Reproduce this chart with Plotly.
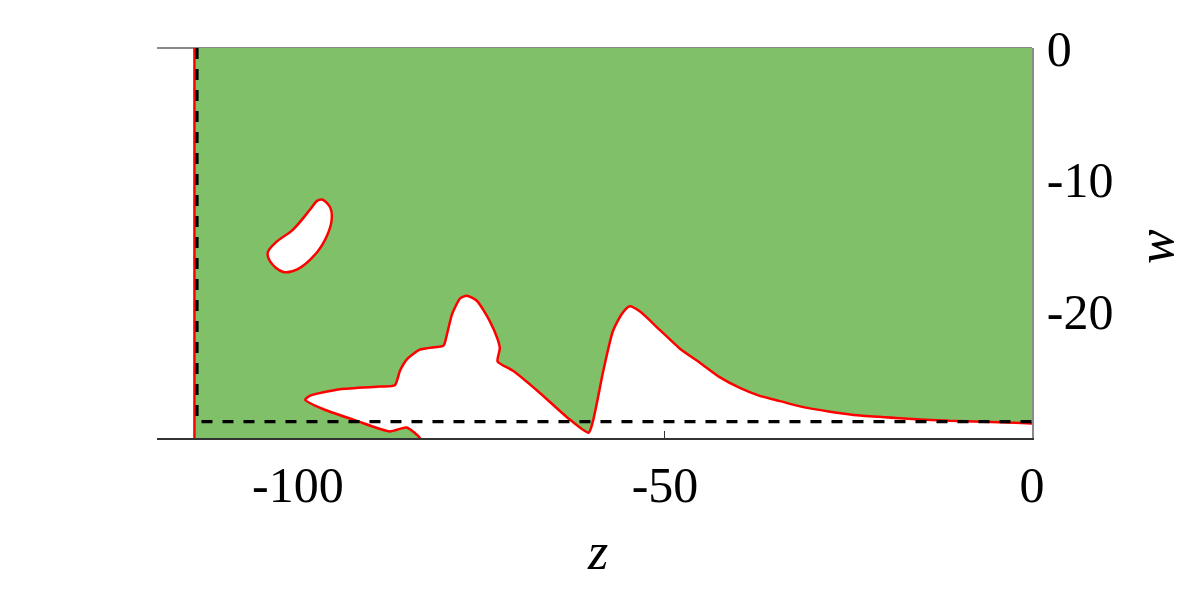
import plotly.graph_objects as go

# Outer limits of the shaded region
Z_LEFT = -114.1
W_BOTTOM = -29.6
Z_DASH = -113.75
W_DASH = -28.35

# Lower red boundary, from where it leaves the bottom axis to the right edge
boundary_z = [-83.4, -85.2, -87.5, -92.0, -96.6, -99.0, -98.4, -94.3, -88.8, -86.8,
              -86.1, -85.1, -83.4, -80.2, -80.0, -79.0, -77.9, -77.0, -75.6, -73.8,
              -72.8, -72.5, -72.8, -70.7, -67.0, -63.4, -60.4, -59.8, -58.4, -57.1,
              -55.9, -54.8, -53.4, -50.7, -48.0, -45.2, -42.5, -39.8, -37.1, -34.3,
              -31.6, -27.5, -23.4, -18.0, -11.2, -4.4, 0.0]
boundary_w = [-29.6, -28.8, -29.1, -28.3, -27.4, -26.7, -26.4, -25.9, -25.7, -25.6,
              -24.5, -23.6, -22.9, -22.6, -22.4, -20.2, -19.0, -18.8, -19.2, -20.8,
              -22.1, -22.8, -23.8, -24.5, -26.2, -28.0, -29.2, -28.3, -24.5, -21.5,
              -20.2, -19.6, -20.0, -21.4, -22.8, -23.9, -25.0, -25.8, -26.4, -26.8,
              -27.2, -27.6, -27.9, -28.1, -28.3, -28.4, -28.5]

# Isolated hole in the shaded region
island_z = [-96.7, -95.6, -95.4, -96.0, -97.4, -100.1, -102.0, -103.8, -104.1,
            -102.9, -100.7, -98.4, -97.4]
island_w = [-11.5, -12.1, -13.0, -14.2, -15.5, -16.8, -17.0, -16.2, -15.5,
            -14.7, -13.8, -12.3, -11.6]

x_ticks = [-100, -50, 0]
y_ticks = [0, -10, -20]

GREEN = "#80c068"
RED = "#ff0000"
FONT = "Liberation Serif"
SMOOTH = 0.6

fig = go.Figure()

# shaded region; the corners sit outside the axis ranges so the spline
# rounding is clipped away and only the red boundary is smoothed
poly_z = ([Z_LEFT, Z_LEFT, 3.0, 3.0] + boundary_z[::-1]
          + [boundary_z[0] + 0.4, Z_LEFT, Z_LEFT])
poly_w = ([0.0, 2.0, 2.0, boundary_w[-1] - 0.05] + boundary_w[::-1]
          + [W_BOTTOM - 1.0, W_BOTTOM - 1.0, W_BOTTOM])
fig.add_trace(go.Scatter(x=poly_z, y=poly_w, mode="lines", fill="toself",
                         fillcolor=GREEN,
                         line={"width": 0, "shape": "spline", "smoothing": SMOOTH},
                         hoverinfo="skip"))

fig.add_trace(go.Scatter(x=island_z + island_z[:1], y=island_w + island_w[:1],
                         mode="lines", fill="toself", fillcolor="white",
                         line={"color": RED, "width": 2.5, "shape": "spline",
                               "smoothing": 1.0},
                         hoverinfo="skip"))

fig.add_trace(go.Scatter(x=[boundary_z[0] + 0.4] + boundary_z + [3.0],
                         y=[W_BOTTOM - 1.0] + boundary_w + [boundary_w[-1] - 0.05],
                         mode="lines",
                         line={"color": RED, "width": 2.5, "shape": "spline",
                               "smoothing": SMOOTH},
                         hoverinfo="skip"))
fig.add_trace(go.Scatter(x=[Z_LEFT, Z_LEFT], y=[0.0, W_BOTTOM], mode="lines",
                         line={"color": RED, "width": 2.5}, hoverinfo="skip"))

fig.add_trace(go.Scatter(x=[Z_DASH, Z_DASH, 0.0], y=[0.0, W_DASH, W_DASH], mode="lines",
                         line={"color": "black", "width": 3.2, "dash": "11px,10px"},
                         hoverinfo="skip"))

# top frame line
fig.add_shape(type="line", xref="paper", yref="paper", x0=0, x1=1, y0=1, y1=1,
              line={"color": "#8a8a8a", "width": 2}, layer="below")

fig.update_xaxes(
    range=[-119.2, 0], tickmode="array", tickvals=x_ticks,
    ticktext=[str(v) for v in x_ticks],
    showgrid=False, zeroline=False, showline=True, linecolor="#333333", linewidth=1.5,
    ticks="inside", ticklen=7, tickcolor="#333333", layer="below traces",
    ticklabelstandoff=2,
    tickfont={"family": FONT, "size": 50, "color": "black"},
)
fig.update_yaxes(
    range=[W_BOTTOM, 0], side="right", tickmode="array", tickvals=y_ticks,
    ticktext=[str(v) for v in y_ticks],
    showgrid=False, zeroline=False, showline=True, linecolor="#8a8a8a", linewidth=1.5,
    ticks="", layer="below traces", ticklabelstandoff=3,
    tickfont={"family": FONT, "size": 50, "color": "black"},
)

fig.add_annotation(text="<i>z</i>", xref="paper", yref="paper", x=0.503, y=0,
                   yanchor="middle", yshift=-113, showarrow=False,
                   font={"family": FONT, "size": 52, "color": "black"})
fig.add_annotation(text="<i>w</i>", xref="paper", yref="paper", x=1, y=0.49,
                   xanchor="center", xshift=124, textangle=-90, showarrow=False,
                   font={"family": FONT, "size": 52, "color": "black"})

fig.update_layout(
    width=1196, height=593, showlegend=False,
    paper_bgcolor="white", plot_bgcolor="white",
    margin={"l": 149, "r": 172, "t": 36, "b": 163},
)

fig.write_html("out.html")
